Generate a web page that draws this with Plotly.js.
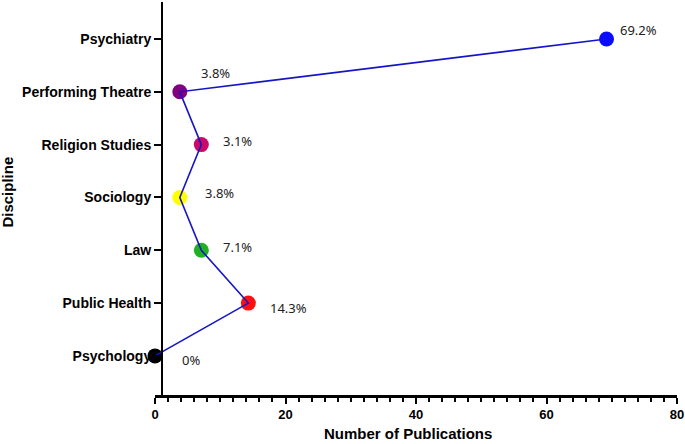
<!DOCTYPE html>
<html>
<head>
<meta charset="utf-8">
<script src="https://cdn.plot.ly/plotly-3.0.1.min.js"></script>
<style>html,body{margin:0;padding:0;background:#fff;}#chart{width:685px;height:444px;}</style>
</head>
<body>
<div id="chart"></div>
<script>
// Data (bottom to top)
const disciplines = ["Psychology", "Public Health", "Law", "Sociology", "Religion Studies", "Performing Theatre", "Psychiatry"];
const publications = [0, 14.3, 7.1, 3.8, 7.1, 3.8, 69.2];
const pctLabels = ["0%", "14.3%", "7.1%", "3.8%", "3.1%", "3.8%", "69.2%"];
const markerColors = ["#000000", "#ff1010", "#20b020", "#ffff00", "#cc0a66", "#800080", "#0a0aff"];
const xTicks = [0, 20, 40, 60, 80];

// label offsets in pixels (style only)
const labelDx = [36, 40, 36, 40, 36, 36, 32];
const labelDy = [4, 5, -3, -4, -4, -19, -9];

const markers = {
  type: "scatter", mode: "markers",
  x: publications, y: disciplines,
  marker: {color: markerColors, size: 15, line: {width: 0}},
  cliponaxis: false,
  hoverinfo: "skip", showlegend: false
};
const line = {
  type: "scatter", mode: "lines",
  x: publications, y: disciplines,
  line: {color: "#1515c8", width: 1.6},
  cliponaxis: false,
  hoverinfo: "skip", showlegend: false
};

const annotations = disciplines.map((d, i) => ({
  x: publications[i], y: d, xref: "x", yref: "y",
  text: pctLabels[i], showarrow: false,
  xshift: labelDx[i], yshift: -labelDy[i],
  font: {family: "Noto Sans, Open Sans, sans-serif", size: 13, color: "#222"}
}));
annotations.push({
  xref: "paper", yref: "paper", x: 0.485, y: 0, yshift: -38, yanchor: "middle",
  text: "Number of Publications", showarrow: false,
  font: {family: "Liberation Sans, Arial, sans-serif", size: 15, color: "#000", weight: "bold"}
});
annotations.push({
  xref: "paper", yref: "paper", x: 0, xshift: -147, y: 0.515, xanchor: "center",
  text: "Discipline", textangle: -90, showarrow: false,
  font: {family: "Liberation Sans, Arial, sans-serif", size: 15, color: "#000", weight: "bold"}
});

const layout = {
  width: 685, height: 444,
  margin: {l: 155, r: 8, t: 2, b: 49},
  paper_bgcolor: "#fff", plot_bgcolor: "#fff",
  showlegend: false,
  xaxis: {
    range: [0, 80], tickvals: xTicks, ticktext: xTicks.map(String),
    showgrid: false, zeroline: false,
    showline: true, linecolor: "#000", linewidth: 2.5,
    ticks: "outside", ticklen: 6, tickwidth: 2, tickcolor: "#000",
    minor: {dtick: 2, tick0: 0, ticks: "outside", ticklen: 4, tickwidth: 2, tickcolor: "#000", showgrid: false},
    tickfont: {family: "Liberation Sans, Arial, sans-serif", size: 13, color: "#000", weight: "bold"},
    fixedrange: true
  },
  yaxis: {
    type: "category", categoryorder: "array", categoryarray: disciplines,
    range: [-0.74, 6.70],
    anchor: "free", position: 0.0134,
    showgrid: false, zeroline: false,
    showline: true, linecolor: "#000", linewidth: 2.5,
    ticks: "outside", ticklen: 7, tickwidth: 2, tickcolor: "#000",
    tickfont: {family: "Liberation Sans, Arial, sans-serif", size: 14, color: "#000", weight: "bold"},
    fixedrange: true
  },
  annotations: annotations
};

Plotly.newPlot("chart", [markers, line], layout, {displayModeBar: false, staticPlot: true});
</script>
</body>
</html>
